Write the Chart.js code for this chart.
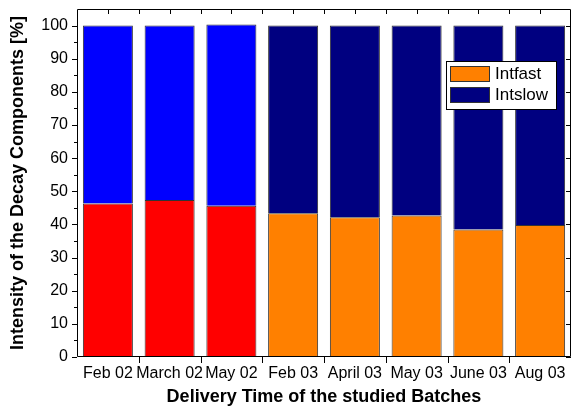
<!DOCTYPE html>
<html>
<head>
<meta charset="utf-8">
<script src="https://cdn.jsdelivr.net/npm/chart.js@4"></script>
<style>
  html, body { margin: 0; padding: 0; background: #fff; }
  #wrap { width: 572px; height: 409px; }
</style>
</head>
<body>
<div id="wrap"><canvas id="decayChart" width="572" height="409"></canvas></div>
<script>
// Datos
const batches = ['Feb 02', 'March 02', 'May 02', 'Feb 03', 'April 03', 'May 03', 'June 03', 'Aug 03'];
const intFast = [46.3, 47.4, 45.6, 43.4, 42.2, 42.7, 38.5, 39.8];
const intSlow = [53.7, 52.6, 54.7, 56.6, 57.8, 57.3, 61.5, 60.2];
const yTickValues = [0, 10, 20, 30, 40, 50, 60, 70, 80, 90, 100];

// Colores: lotes 2002 en rojo/azul, lotes 2003 en naranja/azul marino
const fastColors = ['#ff0000', '#ff0000', '#ff0000', '#ff8000', '#ff8000', '#ff8000', '#ff8000', '#ff8000'];
const slowColors = ['#0000ff', '#0000ff', '#0000ff', '#000080', '#000080', '#000080', '#000080', '#000080'];

const FONT = '"Liberation Sans", Arial, sans-serif';

// Marco y marcas de los ejes (estilo Origin)
const frameTicks = {
    id: 'frameTicks',
    afterDatasetsDraw(chart) {
        const { ctx, chartArea: a, scales: { x, y } } = chart;
        ctx.save();
        ctx.strokeStyle = '#000';
        ctx.lineWidth = 1;
        ctx.beginPath();
        ctx.rect(a.left + 0.5, a.top + 0.5, a.right - a.left - 1, a.bottom - a.top - 1);
        // marcas eje Y (cada 5, mayores cada 10)
        for (let v = 0; v <= 100; v += 5) {
            const py = Math.round(y.getPixelForValue(v)) + 0.5;
            const len = v % 10 === 0 ? 5 : 3;
            ctx.moveTo(a.left, py); ctx.lineTo(a.left - len, py);
            if (v % 10 === 0) { ctx.moveTo(a.right, py); ctx.lineTo(a.right - len, py); }
        }
        // marcas eje X: limites abajo (hacia fuera), centros y limites arriba (hacia dentro)
        batches.forEach((b, i) => {
            const c = Math.round(x.getPixelForValue(i)) + 0.5;
            ctx.moveTo(c, a.top); ctx.lineTo(c, a.top + 5);
            if (i > 0) {
                const edge = Math.round((x.getPixelForValue(i) + x.getPixelForValue(i - 1)) / 2) + 0.5;
                ctx.moveTo(edge, a.bottom); ctx.lineTo(edge, a.bottom + 6);
                ctx.moveTo(edge, a.top); ctx.lineTo(edge, a.top + 5);
            }
        });
        ctx.stroke();
        ctx.restore();
    }
};

// Leyenda dentro del area del grafico
const insideLegend = {
    id: 'insideLegend',
    afterDraw(chart) {
        const { ctx } = chart;
        const bx = 446.5, by = 61.5, bw = 110, bh = 48;
        ctx.save();
        ctx.fillStyle = '#fff';
        ctx.fillRect(bx, by, bw, bh);
        ctx.strokeStyle = '#000';
        ctx.lineWidth = 1;
        ctx.strokeRect(bx, by, bw, bh);
        ctx.font = '17px ' + FONT;
        ctx.textBaseline = 'middle';
        chart.data.datasets.forEach((ds, i) => {
            const sy = 66 + i * 21;
            ctx.fillStyle = ds.backgroundColor[ds.backgroundColor.length - 1];
            ctx.fillRect(450, sy, 40, 16);
            ctx.strokeStyle = '#333';
            ctx.strokeRect(450.5, sy + 0.5, 39, 15);
            ctx.fillStyle = '#000';
            ctx.fillText(ds.label, 495, sy + 8.5);
        });
        ctx.restore();
    }
};

const config = {
    type: 'bar',
    data: {
        labels: batches,
        datasets: [
            { label: 'Intfast', data: intFast, backgroundColor: fastColors, borderColor: '#333', borderWidth: 1 },
            { label: 'Intslow', data: intSlow, backgroundColor: slowColors, borderColor: '#333', borderWidth: 1 }
        ]
    },
    options: {
        responsive: false,
        animation: false,
        layout: { padding: { top: 9, right: 1, bottom: 0, left: 0 } },
        datasets: { bar: { categoryPercentage: 1, barPercentage: 0.81 } },
        plugins: { legend: { display: false }, tooltip: { enabled: false } },
        scales: {
            x: {
                stacked: true,
                grid: { display: false, drawTicks: false },
                border: { display: false },
                ticks: { color: '#000', font: { family: FONT, size: 16 }, padding: 7, maxRotation: 0, autoSkip: false },
                title: { display: true, text: 'Delivery Time of the studied Batches', color: '#000',
                         font: { family: FONT, size: 18, weight: 'bold' }, padding: { top: 0, bottom: 1 } },
                afterFit(scale) { scale.height = 52; scale.paddingLeft = 0; scale.paddingRight = 0; }
            },
            y: {
                stacked: true,
                min: 0,
                max: 105,
                grid: { display: false, drawTicks: false },
                border: { display: false },
                afterBuildTicks(scale) { scale.ticks = yTickValues.map(v => ({ value: v })); },
                ticks: { color: '#000', font: { family: FONT, size: 16 }, padding: 9, autoSkip: false },
                title: { display: true, text: 'Intensity of the Decay Components [%]', color: '#000',
                         font: { family: FONT, size: 18, weight: 'bold' }, padding: { top: 7, bottom: 0 } },
                afterFit(scale) { scale.width = 77; scale.paddingTop = 0; scale.paddingBottom = 0; }
            }
        }
    },
    plugins: [frameTicks, insideLegend]
};

new Chart(document.getElementById('decayChart'), config);
</script>
</body>
</html>
